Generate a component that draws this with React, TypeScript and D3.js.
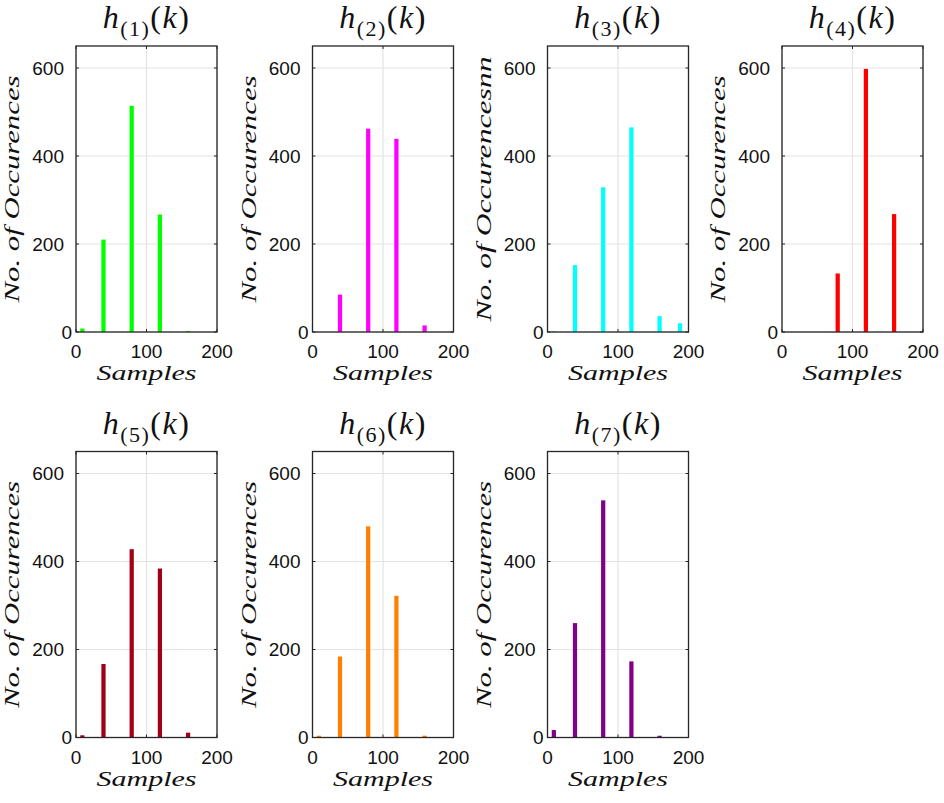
import * as d3 from 'd3';

// histogram bin centres (samples) and counts
const binCenters = [9, 39, 79, 119, 159, 188];
const h1 = [8, 210, 514, 267, 2, 0];
const h2 = [0, 85, 462, 439, 15, 0];
const h3 = [2, 152, 329, 465, 36, 20];
const h4 = [0, 0, 133, 598, 268, 0];
const h5 = [5, 167, 428, 384, 11, 0];
const h6 = [4, 184, 480, 322, 4, 0];
const h7 = [17, 260, 539, 173, 4, 0];

const series = [h1, h2, h3, h4, h5, h6, h7];
const subscripts = ['1', '2', '3', '4', '5', '6', '7'];
const colors = ['#00ff00', '#ff00ff', '#00ffff', '#ff0000', '#a00018', '#ff7f00', '#800088'];
const yLabels = [
  'No. of Occurences',
  'No. of Occurences',
  'No. of Occurencesnn',
  'No. of Occurences',
  'No. of Occurences',
  'No. of Occurences',
  'No. of Occurences',
];

const xTicks = [0, 100, 200];
const yTicks = [0, 200, 400, 600];
const xDomain = [0, 200];
const yDomain = [0, 650];

const W = 944;
const H = 803;
const PW = 141;
const PH = 286;
const SERIF = '"Liberation Serif", "Times New Roman", serif';
const SANS = '"Liberation Sans", Arial, Helvetica, sans-serif';
const AXIS = '#262626';

interface PanelProps {
  left: number;
  top: number;
  values: number[];
  sub: string;
  color: string;
  yLabel: string;
}

const Panel = ({ left, top, values, sub, color, yLabel }: PanelProps) => {
  const x = d3.scaleLinear().domain(xDomain).range([0, PW]);
  const y = d3.scaleLinear().domain(yDomain).range([PH, 0]);
  const halfBin = 3;
  const tickLen = 3;
  const yLabelLen = yLabel.length > 17 ? 265 : 227;

  return (
    <g transform={`translate(${left},${top})`}>
      {/* grid */}
      {xTicks.map(t => (
        <line key={`gx${t}`} x1={x(t)} x2={x(t)} y1={0} y2={PH} stroke="#e3e3e3" strokeWidth={1.2} />
      ))}
      {yTicks.map(t => (
        <line key={`gy${t}`} x1={0} x2={PW} y1={y(t)} y2={y(t)} stroke="#e3e3e3" strokeWidth={1.2} />
      ))}

      {/* bars */}
      {values.map((v, i) =>
        v > 0 ? (
          <rect
            key={`b${i}`}
            x={x(binCenters[i] - halfBin)}
            width={x(binCenters[i] + halfBin) - x(binCenters[i] - halfBin)}
            y={y(v)}
            height={y(0) - y(v)}
            fill={color}
          />
        ) : null
      )}

      {/* box and inward ticks */}
      <rect x={0} y={0} width={PW} height={PH} fill="none" stroke={AXIS} strokeWidth={1.3} />
      {xTicks.map(t => (
        <g key={`tx${t}`}>
          <line x1={x(t)} x2={x(t)} y1={PH} y2={PH - tickLen} stroke={AXIS} />
          <line x1={x(t)} x2={x(t)} y1={0} y2={tickLen} stroke={AXIS} />
        </g>
      ))}
      {yTicks.map(t => (
        <g key={`ty${t}`}>
          <line x1={0} x2={tickLen} y1={y(t)} y2={y(t)} stroke={AXIS} />
          <line x1={PW} x2={PW - tickLen} y1={y(t)} y2={y(t)} stroke={AXIS} />
        </g>
      ))}

      {/* tick labels */}
      {xTicks.map(t => (
        <text key={`lx${t}`} x={x(t)} y={PH + 26} textAnchor="middle" fontFamily={SANS} fontSize={19} fill="#111">
          {t}
        </text>
      ))}
      {yTicks.map(t => (
        <text
          key={`ly${t}`}
          x={t === 0 ? -4 : -12}
          y={y(t)}
          dy="0.35em"
          textAnchor="end"
          fontFamily={SANS}
          fontSize={19}
          fill="#111"
        >
          {t}
        </text>
      ))}

      {/* title */}
      <text x={PW / 2} y={-18} textAnchor="middle" fontFamily={SERIF} fontSize={32} fill="#111" letterSpacing={1.5}>
        <tspan fontStyle="italic">h</tspan>
        <tspan fontSize={22} dy={8}>({sub})</tspan>
        <tspan dy={-8}>(</tspan>
        <tspan fontStyle="italic">k</tspan>
        <tspan>)</tspan>
      </text>

      {/* axis labels */}
      <text
        x={PW / 2}
        y={PH + 48}
        textAnchor="middle"
        fontFamily={SERIF}
        fontStyle="italic"
        fontSize={21}
        fill="#111"
        textLength={100}
        lengthAdjust="spacingAndGlyphs"
      >
        Samples
      </text>
      <text
        transform={`translate(-57,${PH / 2}) rotate(-90)`}
        textAnchor="middle"
        fontFamily={SERIF}
        fontStyle="italic"
        fontSize={21}
        fill="#111"
        textLength={yLabelLen}
        lengthAdjust="spacingAndGlyphs"
      >
        {yLabel}
      </text>
    </g>
  );
};

export default function App() {
  const lefts = [76, 312.5, 547.5, 782];
  const tops = [46, 451.5];
  return (
    <svg
      width={W}
      height={H}
      viewBox={`0 0 ${W} ${H}`}
      style={{ position: 'absolute', left: 0, top: 0, background: '#fff' }}
    >
      <rect width={W} height={H} fill="#fff" />
      {series.map((vals, i) => (
        <Panel
          key={i}
          left={lefts[i % 4]}
          top={tops[Math.floor(i / 4)]}
          values={vals}
          sub={subscripts[i]}
          color={colors[i]}
          yLabel={yLabels[i]}
        />
      ))}
    </svg>
  );
}
